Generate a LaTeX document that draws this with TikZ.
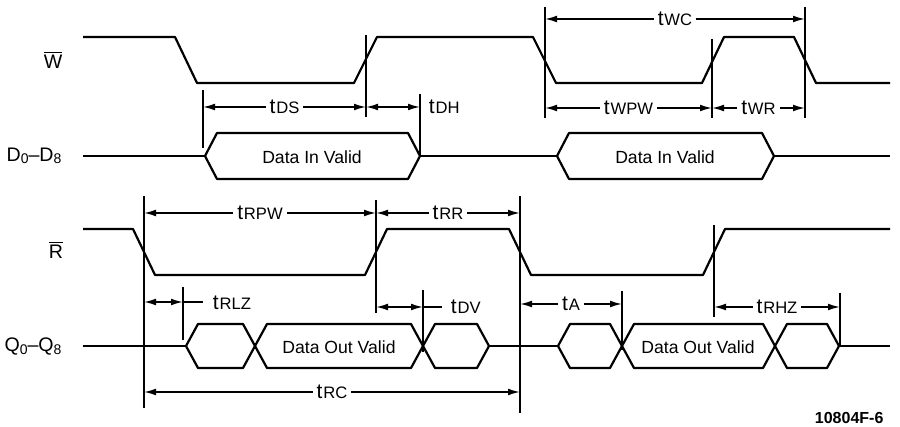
\documentclass[tikz,border=0pt]{standalone}
\usepackage{fontspec}
\setmainfont{Liberation Sans}
\usetikzlibrary{arrows.meta}
\newcommand{\tname}[1]{t\kern0.4pt{\fontsize{8.3}{9}\selectfont #1}}
\newcommand{\subdig}[1]{\raisebox{-0.25ex}{\fontsize{7}{8}\selectfont #1}}

\begin{document}
\begin{tikzpicture}[
    x=0.5pt, y=-0.5pt,
    line width=0.9pt,
    line join=round,
    font=\fontsize{8.8}{10}\selectfont,
    wave/.style={line width=1.1pt},
    marker/.style={line width=0.9pt},
    dim/.style={line width=0.8pt, {Latex[length=6pt,width=3.4pt]}-{Latex[length=6pt,width=3.4pt]}},
    dimlabel/.style={fill=white, inner sep=2pt, font=\fontsize{10.5}{11}\selectfont},
    siglabel/.style={font=\fontsize{9.8}{12}\selectfont}
]

    % Page frame
    \useasboundingbox (0,0) rectangle (900,427);

    % Signal names
    \node[siglabel] (wlab) at (53,60) {$\overline{\mbox{W}}$};
    \node[siglabel] (dlab) at (34,156) {D\subdig{0}--D\subdig{8}};
    \node[siglabel] (rlab) at (56,250) {$\overline{\mbox{R}}$};
    \node[siglabel] (qlab) at (33,347) {Q\subdig{0}--Q\subdig{8}};

    % --- WRITE CYCLE ---
    % W strobe
    \draw[wave] (83,37) -- (175,37) -- (197,83) -- (354,83) -- (377,37) -- (533,37) -- (556,83)
        -- (702,83) -- (724,37) -- (794,37) -- (816,83) -- (890,83);

    % Data in bus
    \draw[wave] (83,156) -- (205,156);
    \draw[wave] (420,156) -- (557,156);
    \draw[wave] (774,156) -- (890,156);
    \foreach \a/\b in {205/420, 557/774}
        \draw[wave] (\a,156) -- (\a+12,133) -- (\b-12,133) -- (\b,156) -- (\b-12,179) -- (\a+12,179) -- cycle;
    \node (din1) at (312,157) {Data In Valid};
    \node (din2) at (665,157) {Data In Valid};

    % Reference lines
    \draw[marker] (203,90) -- (203,148);
    \draw[marker] (366,35) -- (366,117);
    \draw[marker] (420,94) -- (420,156);
    \draw[marker] (545,7) -- (545,118);
    \draw[marker] (712,39) -- (712,118);
    \draw[marker] (805,7) -- (805,118);

    % Timing arrows
    \coordinate (ds-l) at (203,107);
    \coordinate (ds-r) at (366,107);
    \coordinate (dh-r) at (420,107);
    \coordinate (wc-l) at (545,19);
    \coordinate (wc-r) at (805,19);
    \coordinate (wpw-l) at (545,108);
    \coordinate (wpw-r) at (712,108);
    \coordinate (wr-r) at (805,108);
    \draw[dim] (ds-l) -- (ds-r) node[midway, dimlabel] (tds) {\tname{DS}};
    \draw[dim] (ds-r) -- (dh-r);
    \node[dimlabel, anchor=west] (tdh) at (424,107) {\tname{DH}};
    \draw[dim] (wc-l) -- (wc-r) node[midway, dimlabel] (twc) {\tname{WC}};
    \draw[dim] (wpw-l) -- (wpw-r) node[midway, dimlabel] (twpw) {\tname{WPW}};
    \draw[dim] (wpw-r) -- (wr-r) node[midway, dimlabel] (twr) {\tname{WR}};

    % --- READ CYCLE ---
    % R strobe
    \draw[wave] (83,229) -- (133,229) -- (155,275) -- (365,275) -- (387,229) -- (509,229) -- (531,275)
        -- (703,275) -- (725,229) -- (890,229);

    % Data out bus
    \draw[wave] (83,346) -- (186,346);
    \draw[wave] (489,346) -- (558,346);
    \draw[wave] (839,346) -- (890,346);
    \foreach \a/\b in {186/255, 255/423, 423/489, 558/622, 622/775, 775/839}
        \draw[wave] (\a,346) -- (\a+12,324) -- (\b-12,324) -- (\b,346) -- (\b-12,368) -- (\a+12,368) -- cycle;
    \node (dout1) at (339,347) {Data Out Valid};
    \node (dout2) at (698,347) {Data Out Valid};

    % Reference lines
    \draw[marker] (144,196) -- (144,408);
    \draw[marker] (376,200) -- (376,313);
    \draw[marker] (520,196) -- (520,413);
    \draw[marker] (183,287) -- (183,340);
    \draw[marker] (423,290) -- (423,352);
    \draw[marker] (622,291) -- (622,350);
    \draw[marker] (714,225) -- (714,317);
    \draw[marker] (840,293) -- (840,346);

    % Timing arrows
    \coordinate (rpw-l) at (144,213);
    \coordinate (rpw-r) at (376,213);
    \coordinate (rr-r) at (520,213);
    \coordinate (rlz-l) at (144,302);
    \coordinate (rlz-r) at (183,302);
    \coordinate (rlz-t) at (203,302);
    \coordinate (dv-l) at (376,307);
    \coordinate (dv-r) at (423,307);
    \coordinate (dv-t) at (442,307);
    \coordinate (a-l) at (520,304);
    \coordinate (a-r) at (622,304);
    \coordinate (rhz-l) at (714,307);
    \coordinate (rhz-r) at (840,307);
    \coordinate (rc-l) at (144,392);
    \coordinate (rc-r) at (520,392);
    \draw[dim] (rpw-l) -- (rpw-r) node[midway, dimlabel] (trpw) {\tname{RPW}};
    \draw[dim] (rpw-r) -- (rr-r) node[midway, dimlabel] (trr) {\tname{RR}};
    \draw[dim] (rlz-l) -- (rlz-r);
    \draw[line width=0.8pt] (rlz-r) -- (rlz-t);
    \node[dimlabel, anchor=west] (trlz) at (208,303) {\tname{RLZ}};
    \draw[dim] (dv-l) -- (dv-r);
    \draw[line width=0.8pt] (dv-r) -- (dv-t);
    \node[dimlabel, anchor=west] (tdv) at (446,307) {\tname{DV}};
    \draw[dim] (a-l) -- (a-r) node[midway, dimlabel] (ta) {\tname{A}};
    \draw[dim] (rhz-l) -- (rhz-r) node[midway, dimlabel] (trhz) {\tname{RHZ}};
    \draw[dim] (rc-l) -- (rc-r) node[midway, dimlabel] (trc) {\tname{RC}};

    % Figure number
    \node[anchor=east, font=\fontsize{8}{9}\selectfont\bfseries] (fignum) at (891,418) {10804F-6};

\end{tikzpicture}
\end{document}
